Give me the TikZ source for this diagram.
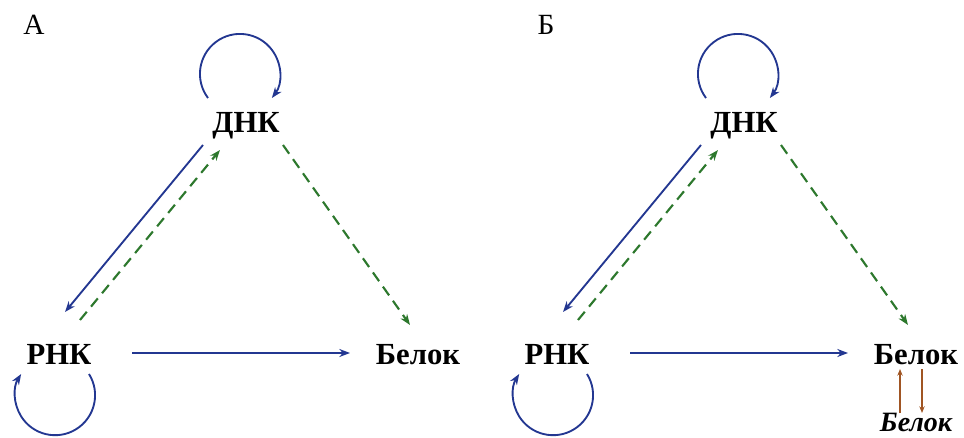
\documentclass[tikz,border=0pt]{standalone}
\usepackage{fontspec}
\setmainfont{Liberation Serif}
\usetikzlibrary{arrows.meta}

\definecolor{dnablue}{RGB}{35,55,145}
\definecolor{dnagreen}{RGB}{45,120,45}
\definecolor{protbrown}{RGB}{160,85,35}

\begin{document}
\begin{tikzpicture}[x=0.75pt,y=0.75pt,
    term/.style={font=\fontsize{23}{26}\selectfont\bfseries, inner sep=0pt, anchor=base},
    solidarr/.style={dnablue, line width=1.4pt, -{Stealth[length=8pt,width=6pt]}},
    dasharr/.style={dnagreen, line width=1.6pt, dash pattern=on 8pt off 5pt, -{Stealth[length=8pt,width=6pt]}},
    brownarr/.style={protbrown, line width=1.2pt, -{Stealth[length=5pt,width=4pt]}}]
    \useasboundingbox (0,0) rectangle (964,-438);
    \foreach \dx/\p/\lab/\lx in {0/a/А/34,498/b/Б/546} {
      \node[font=\fontsize{22}{26}\selectfont, inner sep=0pt, anchor=base] (lab\p) at (\lx,-35) {\lab};
      \node[term] (dnk\p) at (246+\dx,-133) {ДНК};
      \node[term] (rnk\p) at (59+\dx,-364) {РНК};
      \node[term] (bel\p) at (418+\dx,-364) {Белок};
      % self loops
      \draw[solidarr] ([shift={(-38,35)}]dnk\p.base) arc[start angle=217, end angle=-37, radius=40];
      \draw[solidarr] ([shift={(30,-10)}]rnk\p.base) arc[start angle=32, end angle=-212, radius=40];
      % transfers
      \draw[solidarr] ([shift={(-43,-12)}]dnk\p.base) -- ([shift={(6,52)}]rnk\p.base);
      \draw[dasharr] ([shift={(21,44)}]rnk\p.base) -- ([shift={(-26,-17)}]dnk\p.base);
      \draw[dasharr] ([shift={(37,-12)}]dnk\p.base) -- ([shift={(-8,39)}]bel\p.base);
      \draw[solidarr] ([shift={(73,11)}]rnk\p.base) -- ([shift={(-68,11)}]bel\p.base);
    }
    \node[font=\fontsize{21}{24}\selectfont\bfseries\itshape, inner sep=0pt, anchor=base] (belx) at (916,-431) {Белок};
    \draw[brownarr] ([shift={(-16,18)}]belx.base) -- ([shift={(-16,-5)}]belb.base);
    \draw[brownarr] ([shift={(6,-5)}]belb.base) -- ([shift={(6,18)}]belx.base);
  \end{tikzpicture}
\end{document}
